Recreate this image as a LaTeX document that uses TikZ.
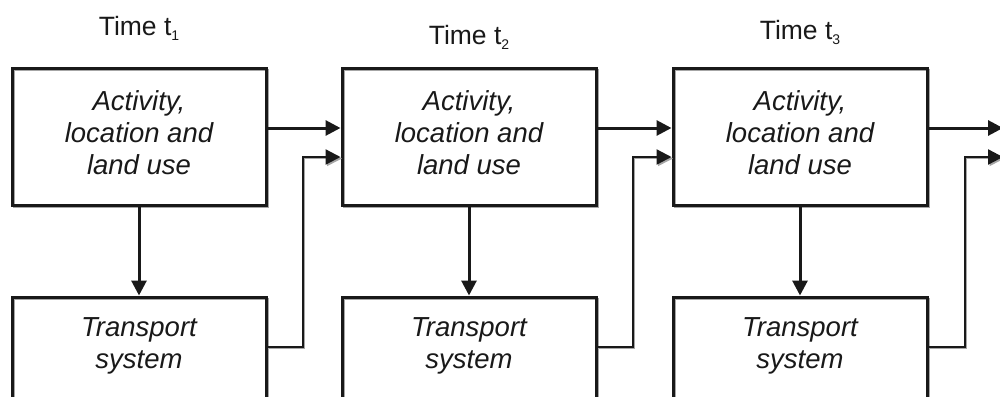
\documentclass[tikz,border=0pt]{standalone}
\usepackage{fontspec}
\setmainfont{Liberation Sans}
\usetikzlibrary{arrows.meta}

\newcommand{\tsub}[1]{\raisebox{-5pt}{\fontsize{14}{14}\selectfont #1}}

\begin{document}
\begin{tikzpicture}[x=1pt,y=-1pt,
  ink/.style={draw=black!90, line width=3pt,
    preaction={draw=black!35, line width=2pt, transform canvas={shift={(2pt,-2pt)}}}},
  boxA/.style={ink, minimum width=254pt, minimum height=137pt, inner sep=0pt},
  boxT/.style={ink, minimum width=254pt, minimum height=140pt, inner sep=0pt},
  boxtext/.style={font=\fontsize{27.5}{32}\selectfont\itshape, align=center, text=black!90},
  timelabel/.style={font=\fontsize{26.5}{30}\selectfont, text=black!90},
  flow/.style={draw=black!90, line width=3pt,
    -{Triangle[length=15pt,width=15pt]}},
  feed/.style={draw=black!90, line width=2.3pt,
    preaction={draw=black!35, line width=1.5pt, transform canvas={shift={(1.5pt,-1.5pt)}}},
    -{Triangle[length=15pt,width=15pt]}}
]
\useasboundingbox (0,0) rectangle (1000,396);
\clip (0,0) rectangle (1000,396);

% time labels
\node[timelabel] (time1) at (139,28) {Time t\tsub{1}};
\node[timelabel] (time2) at (469,37) {Time t\tsub{2}};
\node[timelabel] (time3) at (800,32) {Time t\tsub{3}};

% activity, location and land use boxes
\node[boxA] (act1) at (139,136.5) {};
\node[boxA] (act2) at (469,136.5) {};
\node[boxA] (act3) at (800,136.5) {};
\node[boxtext] (actt1) at (139,133) {Activity,\\location and\\land use};
\node[boxtext] (actt2) at (469,133) {Activity,\\location and\\land use};
\node[boxtext] (actt3) at (800,133) {Activity,\\location and\\land use};

% transport system boxes (running past the lower edge)
\node[boxT] (tr1) at (139,367) {};
\node[boxT] (tr2) at (469,367) {};
\node[boxT] (tr3) at (800,367) {};
\node[boxtext] (trt1) at (139,346) {Transport\\system};
\node[boxtext] (trt2) at (469,346) {Transport\\system};
\node[boxtext] (trt3) at (800,346) {Transport\\system};

% free ends on the right
\coordinate (out1) at (1003,128);
\coordinate (out2) at (1003,157);

% land use feeds transport within each period
\draw[flow] (act1.south) -- (tr1.north);
\draw[flow] (act2.south) -- (tr2.north);
\draw[flow] (act3.south) -- (tr3.north);

% land use carried forward to the next period
\draw[flow] (act1.east |- 0,128) -- (act2.west |- 0,128);
\draw[flow] (act2.east |- 0,128) -- (act3.west |- 0,128);
\draw[flow] (act3.east |- 0,128) -- (out1);

% transport feeding back into the next period
\draw[feed] (tr1.east |- 0,347) -| (303,157) -- (act2.west |- 0,157);
\draw[feed] (tr2.east |- 0,347) -| (633,157) -- (act3.west |- 0,157);
\draw[feed] (tr3.east |- 0,347) -| (965,157) -- (out2);
\end{tikzpicture}
\end{document}
